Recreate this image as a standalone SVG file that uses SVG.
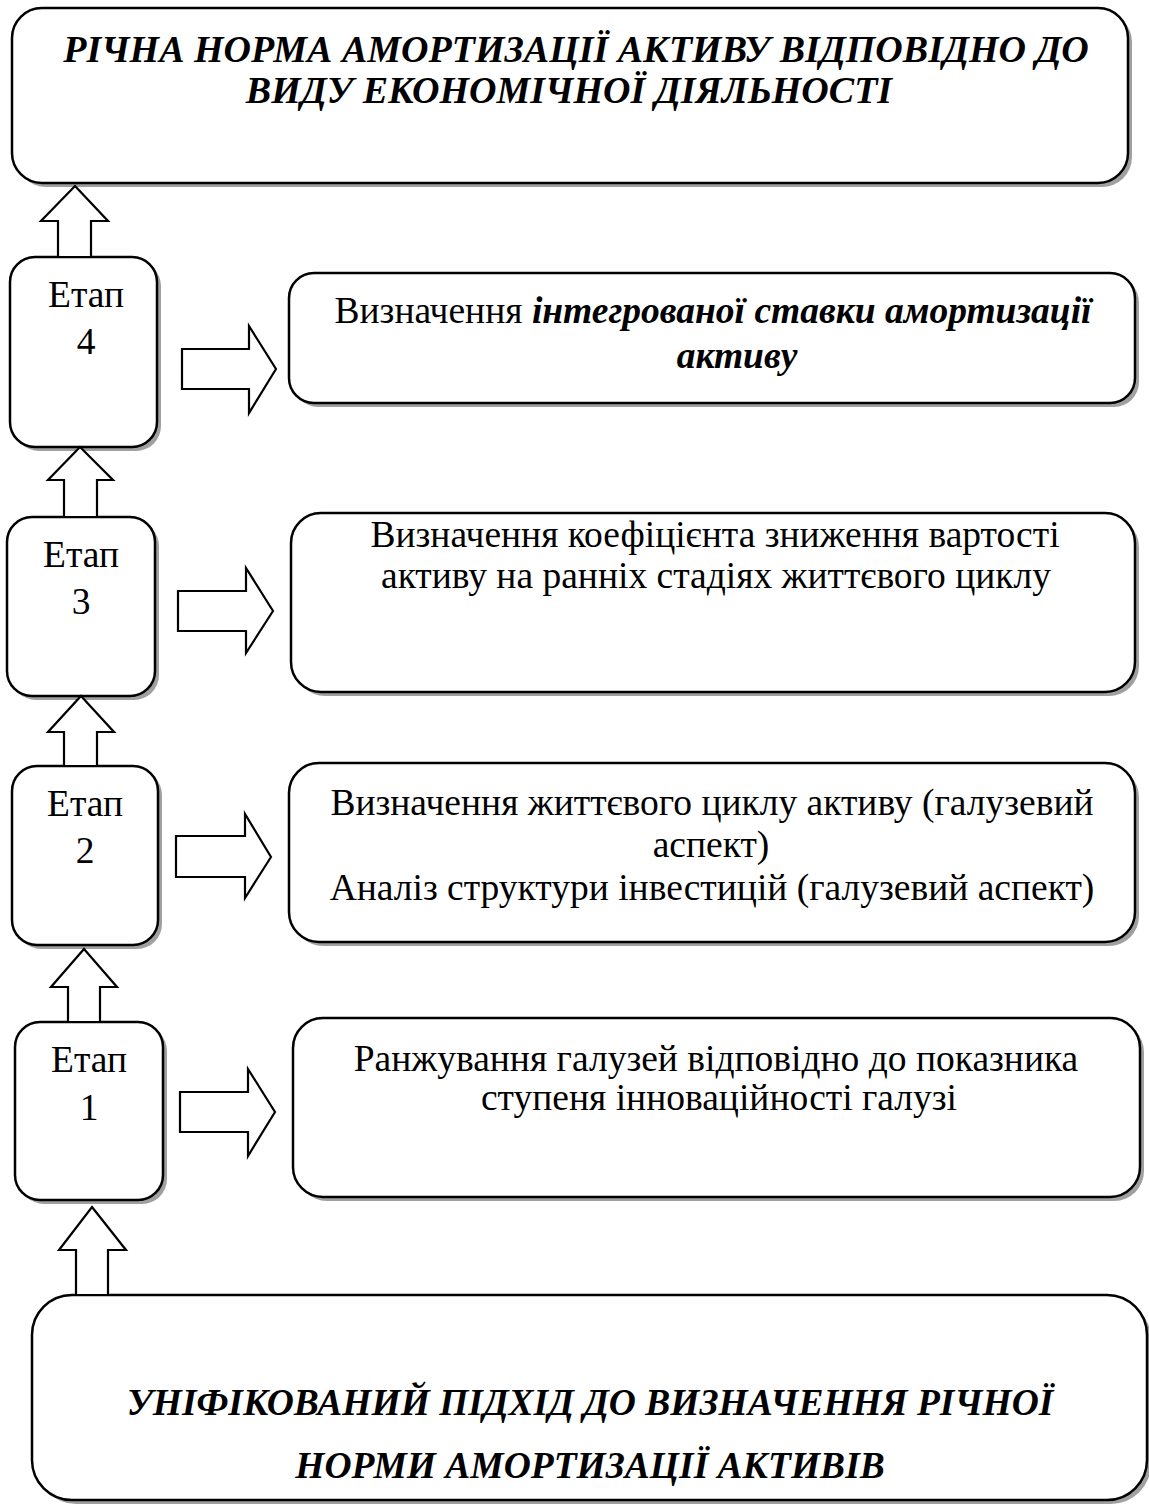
<svg xmlns="http://www.w3.org/2000/svg" width="1149" height="1506" viewBox="0 0 1149 1506">
  <style>
    .box { fill: #ffffff; stroke: #000000; stroke-width: 2.5; }
    .shadow { fill: #a0a0a0; stroke: none; }
    .arrow { fill: #ffffff; stroke: #000000; stroke-width: 2.2; stroke-linejoin: miter; }
    text { font-family: 'Liberation Serif', 'Times New Roman', serif; fill: #000000; text-anchor: middle; }
    .t { font-size: 37.5px; }
    .title { font-size: 38px; font-weight: bold; font-style: italic; }
    .title2 { font-size: 37.5px; font-weight: bold; font-style: italic; }
    .bi { font-weight: bold; font-style: italic; }
  </style>

  <rect width="1149" height="1506" fill="#ffffff"/>

  <!-- result box at the top -->
  <g id="result">
    <rect class="shadow" x="16" y="12" width="1116" height="175" rx="30"/>
    <rect class="box" x="12" y="8" width="1116" height="175" rx="30"/>
    <text class="title" x="576" y="62">РІЧНА НОРМА АМОРТИЗАЦІЇ АКТИВУ ВІДПОВІДНО ДО</text>
    <text class="title" x="569" y="103">ВИДУ ЕКОНОМІЧНОЇ ДІЯЛЬНОСТІ</text>
  </g>

  <!-- stage 4 -->
  <g id="stage4">
    <rect class="shadow" x="14" y="261" width="147" height="190" rx="25"/>
    <rect class="box" x="10" y="257" width="147" height="190" rx="25"/>
    <text class="t" x="86" y="307">Етап</text>
    <text class="t" x="86" y="354">4</text>
  </g>
  <g id="step4">
    <rect class="shadow" x="293" y="277" width="846" height="130" rx="25"/>
    <rect class="box" x="289" y="273" width="846" height="130" rx="25"/>
    <text class="t" x="713" y="323">Визначення <tspan class="bi">інтегрованої ставки амортизації</tspan></text>
    <text class="t bi" x="737" y="368">активу</text>
  </g>

  <!-- stage 3 -->
  <g id="stage3">
    <rect class="shadow" x="11" y="521" width="148" height="179" rx="25"/>
    <rect class="box" x="7" y="517" width="148" height="179" rx="25"/>
    <text class="t" x="81" y="567">Етап</text>
    <text class="t" x="81" y="614">3</text>
  </g>
  <g id="step3">
    <rect class="shadow" x="295" y="517" width="844" height="179" rx="30"/>
    <rect class="box" x="291" y="513" width="844" height="179" rx="30"/>
    <text class="t" x="715" y="547">Визначення коефіцієнта зниження вартості</text>
    <text class="t" x="716" y="588">активу на ранніх стадіях життєвого циклу</text>
  </g>

  <!-- stage 2 -->
  <g id="stage2">
    <rect class="shadow" x="16" y="770" width="146" height="179" rx="25"/>
    <rect class="box" x="12" y="766" width="146" height="179" rx="25"/>
    <text class="t" x="85" y="816">Етап</text>
    <text class="t" x="85" y="863">2</text>
  </g>
  <g id="step2">
    <rect class="shadow" x="293" y="767" width="846" height="179" rx="30"/>
    <rect class="box" x="289" y="763" width="846" height="179" rx="30"/>
    <text class="t" x="712" y="815">Визначення життєвого циклу активу (галузевий</text>
    <text class="t" x="711" y="857">аспект)</text>
    <text class="t" x="712" y="900">Аналіз структури інвестицій (галузевий аспект)</text>
  </g>

  <!-- stage 1 -->
  <g id="stage1">
    <rect class="shadow" x="19" y="1026" width="148" height="178" rx="25"/>
    <rect class="box" x="15" y="1022" width="148" height="178" rx="25"/>
    <text class="t" x="89" y="1072">Етап</text>
    <text class="t" x="89" y="1120">1</text>
  </g>
  <g id="step1">
    <rect class="shadow" x="297" y="1022" width="847" height="179" rx="30"/>
    <rect class="box" x="293" y="1018" width="847" height="179" rx="30"/>
    <text class="t" x="716" y="1071">Ранжування галузей відповідно до показника</text>
    <text class="t" x="719" y="1110">ступеня інноваційності галузі</text>
  </g>

  <!-- basis box at the bottom -->
  <g id="basis">
    <rect class="shadow" x="36" y="1299" width="1115" height="205" rx="40"/>
    <rect class="box" x="32" y="1295" width="1115" height="205" rx="40"/>
    <text class="title2" x="590" y="1415">УНІФІКОВАНИЙ ПІДХІД ДО ВИЗНАЧЕННЯ РІЧНОЇ</text>
    <text class="title2" x="590" y="1478">НОРМИ АМОРТИЗАЦІЇ АКТИВІВ</text>
  </g>

  <!-- block arrows -->
  <g id="connectors">
    <polygon class="arrow" points="75,186 108,221 91,221 91,257 58,257 58,221 41,221"/>
    <polygon class="arrow" points="80,447 113,480 97,480 97,517 64,517 64,480 48,480"/>
    <polygon class="arrow" points="81,696 114,732 97,732 97,766 64,766 64,732 48,732"/>
    <polygon class="arrow" points="84,949 117,987 100,987 100,1022 68,1022 68,987 51,987"/>
    <polygon class="arrow" points="92,1207 126,1250 108,1250 108,1295 76,1295 76,1250 59,1250"/>

    <polygon class="arrow" points="276,369 249,413 249,389 182,389 182,349 249,349 249,326"/>
    <polygon class="arrow" points="273,611 246,653 246,631 178,631 178,591 246,591 246,568"/>
    <polygon class="arrow" points="271,857 245,898 245,877 176,877 176,836 245,836 245,814"/>
    <polygon class="arrow" points="275,1112 248,1156 248,1132 180,1132 180,1092 248,1092 248,1069"/>
  </g>
</svg>
